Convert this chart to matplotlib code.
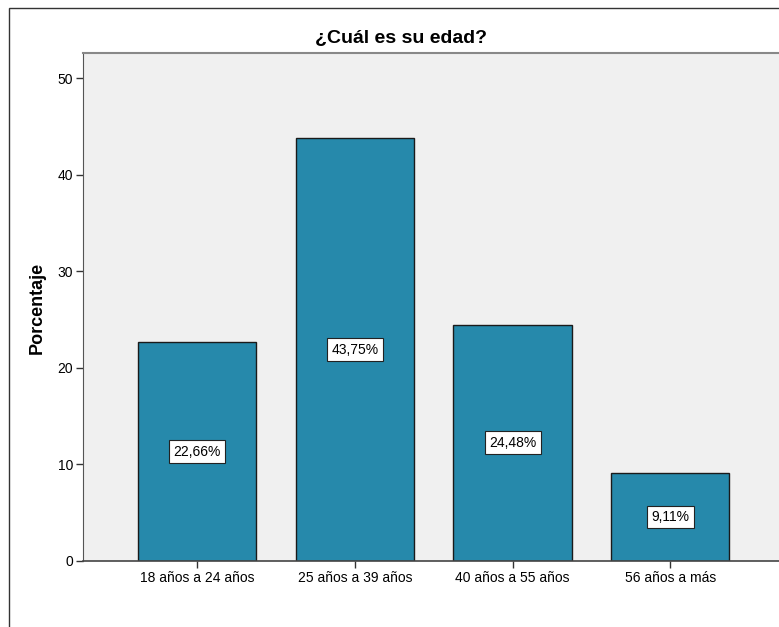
import matplotlib.pyplot as plt
from matplotlib.patches import Rectangle

categories = ["18 años a 24 años", "25 años a 39 años", "40 años a 55 años", "56 años a más"]
percentages = [22.66, 43.75, 24.48, 9.11]
y_ticks = [0, 10, 20, 30, 40, 50]

plt.rcParams['font.family'] = ['Liberation Sans', 'DejaVu Sans']

W, H = 779, 627
fig = plt.figure(figsize=(W / 100, H / 100), dpi=100)

# outer chart frame (runs off the right and bottom edges)
fig.patches.append(Rectangle((9 / W, -0.1), 1.2, 1.1 - 8 / H, transform=fig.transFigure,
                             fill=False, edgecolor='#333333', linewidth=1.0))

ax = fig.add_axes([83 / W, 1 - 561 / H, (W - 83) / W + 0.002, (561 - 53) / H])
ax.set_facecolor('#F0F0F0')

x = list(range(len(categories)))
ax.bar(x, percentages, width=0.75, color='#2689AB', edgecolor='#1a1a1a', linewidth=1.0, zorder=2)

for xi, v in zip(x, percentages):
    ax.text(xi, v / 2, f"{v:.2f}%".replace('.', ','), ha='center', va='center', fontsize=10,
            bbox=dict(boxstyle='square,pad=0.32', facecolor='white', edgecolor='#222222', linewidth=0.8),
            zorder=3)

ax.set_xlim(-0.725, 3.70)
ax.set_ylim(0, 52.6)
ax.set_yticks(y_ticks)
ax.set_xticks(x)
ax.set_xticklabels(categories)
ax.tick_params(axis='both', labelsize=10, length=5, width=1.0, color='#333333', pad=2)

ax.spines['right'].set_visible(False)
ax.spines['top'].set_color('#888888')
ax.spines['top'].set_linewidth(1.5)
ax.spines['left'].set_color('#555555')
ax.spines['bottom'].set_color('#444444')
ax.spines['bottom'].set_linewidth(1.2)

fig.text(401 / W, 1 - 38 / H, "¿Cuál es su edad?", ha='center', va='center',
         fontsize=14, fontweight='bold')
fig.text(37 / W, 1 - 308 / H, "Porcentaje", ha='center', va='center', rotation=90,
         fontsize=13, fontweight='bold')

fig.savefig("out.png", dpi=100)
